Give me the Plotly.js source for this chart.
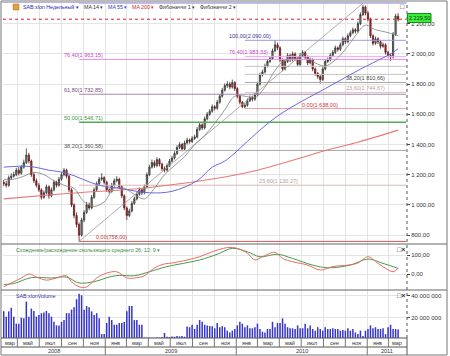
<!DOCTYPE html>
<html><head><meta charset="utf-8">
<script src="https://cdn.plot.ly/plotly-3.0.1.min.js"></script>
<style>html,body{margin:0;padding:0;background:#fff}#chart{width:450px;height:356px}</style>
</head><body><div id="chart"></div>
<script>
// ---------- DATA ----------
const firstWeek = '2008-03-24';
const openP = [
1150,1140,1130,1180,1190,1200,1230,1210,1250,1280,
1330,1290,1200,1160,1130,1100,1050,1080,1120,1060,
1100,1150,1130,1170,1200,1230,1190,1100,1000,930,
870,800,900,950,1000,980,1050,1100,1140,1170,
1180,1150,1100,1090,1130,1160,1170,1120,1060,980,
930,960,1010,1040,1070,1100,1080,1120,1200,1250,
1280,1260,1300,1270,1240,1230,1260,1290,1310,1340,
1380,1400,1370,1410,1430,1420,1440,1450,1500,1530,
1510,1570,1600,1620,1650,1640,1680,1720,1760,1790,
1800,1780,1810,1770,1720,1680,1650,1660,1690,1710,
1700,1730,1800,1860,1880,1920,1950,1970,2020,2060,
2040,1960,1900,1950,1990,1960,2000,1970,1930,1990,
2010,1980,1940,1960,1900,1870,1850,1830,1900,1950,
1960,1990,2010,2040,2030,2060,2100,2080,2120,2140,
2160,2150,2200,2260,2310,2270,2230,2120,2070,2100,
2080,2050,2060,2010,1990,1980,2130,2250];
const highP = [
1165,1160,1195,1210,1220,1245,1250,1265,1300,1374,
1345,1300,1215,1175,1145,1110,1095,1135,1130,1115,
1165,1160,1185,1215,1245,1240,1200,1110,1010,950,
885,915,965,1020,1015,1065,1115,1155,1185,1210,
1190,1160,1110,1145,1175,1190,1180,1130,1070,990,
975,1025,1055,1085,1115,1110,1135,1215,1265,1300,
1295,1315,1310,1280,1255,1275,1305,1325,1355,1395,
1415,1410,1425,1445,1440,1455,1465,1515,1545,1540,
1585,1615,1635,1665,1660,1695,1735,1775,1805,1820,
1815,1830,1820,1780,1730,1690,1675,1705,1725,1720,
1745,1815,1875,1895,1935,1965,1985,2035,2090,2075,
2050,1970,1965,2005,2000,2015,2010,1980,2005,2025,
2020,1990,1975,1970,1910,1880,1860,1915,1965,1975,
2005,2025,2055,2050,2075,2115,2110,2135,2155,2175,
2170,2215,2275,2325,2320,2285,2240,2130,2115,2110,
2090,2075,2070,2020,2000,2145,2265,2270];
const lowP = [
1125,1115,1120,1165,1180,1190,1195,1200,1240,1270,
1275,1185,1145,1115,1085,1035,1040,1070,1040,1050,
1090,1115,1120,1160,1190,1175,1085,985,910,850,
758,790,885,940,965,970,1040,1090,1130,1160,
1135,1085,1075,1080,1120,1150,1105,1045,965,900,
920,950,1000,1030,1060,1065,1070,1110,1190,1240,
1245,1250,1255,1225,1215,1220,1250,1280,1300,1330,
1370,1355,1360,1400,1405,1410,1430,1440,1490,1495,
1500,1560,1590,1610,1625,1630,1670,1710,1750,1775,
1765,1770,1755,1705,1665,1640,1638,1650,1680,1685,
1690,1720,1790,1850,1870,1910,1940,1960,2010,2025,
1945,1885,1890,1940,1945,1950,1955,1915,1920,1980,
1965,1925,1930,1885,1855,1835,1803,1820,1890,1940,
1950,1980,2000,2015,2020,2050,2065,2070,2110,2130,
2135,2140,2190,2250,2255,2215,2105,2055,2060,2065,
2035,2040,1995,1975,1954,1970,2120,2215];
const closeP = [
1140,1130,1180,1190,1200,1230,1210,1250,1280,1330,
1290,1200,1160,1130,1100,1050,1080,1120,1060,1100,
1150,1130,1170,1200,1230,1190,1100,1000,930,870,
800,900,950,1000,980,1050,1100,1140,1170,1180,
1150,1100,1090,1130,1160,1170,1120,1060,980,930,
960,1010,1040,1070,1100,1080,1120,1200,1250,1280,
1260,1300,1270,1240,1230,1260,1290,1310,1340,1380,
1400,1370,1410,1430,1420,1440,1450,1500,1530,1510,
1570,1600,1620,1650,1640,1680,1720,1760,1790,1800,
1780,1810,1770,1720,1680,1650,1660,1690,1710,1700,
1730,1800,1860,1880,1920,1950,1970,2020,2060,2040,
1960,1900,1950,1990,1960,2000,1970,1930,1990,2010,
1980,1940,1960,1900,1870,1850,1830,1900,1950,1960,
1990,2010,2040,2030,2060,2100,2080,2120,2140,2160,
2150,2200,2260,2310,2270,2230,2120,2070,2100,2080,
2050,2060,2010,1990,1980,2130,2250,2229.5];
const volumeM = [
25.7,20.8,25.7,29,20.8,14.3,14.3,19.8,19.2,34.8,
20.8,28.3,26,20.8,22.4,24,24.7,26,24,20.8,
16,12.7,12.7,16,17.6,24,24,27.3,29.5,37,
42,40.6,27.3,30.6,29.5,25.7,22.4,24,19.2,4.6,
4.6,15,20.8,17.6,13.3,13.3,15,15,16,25.7,
30.6,30.6,17.6,17.6,13.3,13.3,1.3,1.3,1.4,1.3,
1.2,1.5,1.4,2.0,5.7,2.2,1.8,2.5,2.2,2.9,
2.5,2.9,2.2,11.7,11,13.3,9.4,13.3,17.6,16,
13.3,12.7,12,12,10,15,11,12,11,7.8,
6.2,7.8,9.4,12.7,16,14.3,11,12.7,10,10,
11,14.3,9.4,6.8,6.2,9.4,9.4,16,11,15,
15,19.2,14.3,11,10,10,9.4,12.7,10,10,
14.3,10,12.7,9.4,7.8,11,9.4,7.8,11,9.4,
9.4,10,9.4,9.4,7.8,8.5,7.8,10,7.8,9.4,
6.2,4.6,7.8,2.9,7.8,9.4,12.7,10,11,9.4,
9.4,10,4.6,11,13.3,9.4,9.4,8.8];

const ma14Week = [0,4,8,12,16,20,24,28,32,36,40,44,48,52,56,60,64,68,72,76,80,84,88,92,96,100,104,108,112,116,120,124,128,132,136,140,144,148,152,157];
const ma14Val  = [1170,1170,1190,1215,1200,1160,1130,1110,1020,990,1020,1110,1110,1070,1040,1110,1200,1260,1320,1400,1460,1540,1630,1720,1720,1710,1780,1890,1960,1970,1980,1940,1920,1960,2030,2120,2190,2160,2145,2120];
const ma55Week = [0,10,18,25,38,46,58,67,77,83,88,97,103,110,118,128,141,155,157];
const ma55Val  = [1250,1255,1230,1210,1130,1110,1080,1090,1160,1250,1290,1420,1510,1600,1680,1770,1890,2010,2035];
const ma200Week = [0,25,58,88,101,115,128,141,157];
const ma200Val  = [1040,1075,1115,1185,1230,1295,1360,1415,1495];

const macdWeek = [0,3,7,10,13,17,21,25,27,30,33,37,41,45,49,52,56,60,64,67,73,78,83,89,93,97,100,103,108,111,115,121,126,131,137,141,145,149,151,155,157];
const macdVal  = [-67,-47,-21,0,-16,-32,-21,-9,-40,-67,-68,-21,5,12,-20,-21,-9,32,53,58,74,91,117,139,135,109,74,91,114,82,65,47,21,39,47,58,91,56,39,12,30];
const signalWeek = [0,4,11,19,25,30,36,42,46,52,58,65,78,85,91,97,102,109,115,123,129,138,145,151,157];
const signalVal  = [-55,-50,-19,-21,-16,-47,-40,-16,-7,-9,12,39,74,104,135,117,91,104,82,47,33,47,79,56,30];

const fib1Pct = [0, 23.6, 38.2, 50, 61.8, 76.4, 100];
const fib1Val = [758, 1130.27, 1360.58, 1546.71, 1732.85, 1963.15, 2335.42];
const fib1FromWeek = 30, fib1ToWeek = 143;
const fib2Pct = [0, 23.6, 38.2, 50, 61.8, 76.4, 100];
const fib2Val = [1638, 1744.67, 1810.66, 1864, 1917.34, 1983.33, 2090];
const fib2FromWeek = 96;
const lastPrice = 2229.5;

const priceTicks = [800, 1000, 1200, 1400, 1600, 1800, 2000, 2200];
const macdTicks = [0, 100];
const volTicks = [20, 40];
const volTickText = ['20 000 000', '40 000 000'];
const monthBounds = ['2008-03-01','2008-05-01','2008-07-01','2008-09-01','2008-11-01','2009-01-01','2009-03-01','2009-05-01','2009-07-01','2009-09-01','2009-11-01','2010-01-01','2010-03-01','2010-05-01','2010-07-01','2010-09-01','2010-11-01','2011-01-01','2011-03-01','2011-05-01'];
const monthLabels = ['мар','май','июл','сен','ноя','янв','мар','май','июл','сен','ноя','янв','мар','май','июл','сен','ноя','янв','мар'];
const yearBounds = ['2008-01-01','2009-01-01','2010-01-01','2011-01-01','2012-01-01'];
const yearLabels = ['2008','2009','2010','2011'];

// ---------- HELPERS ----------
const X0 = '2008-03-22', X1 = '2011-04-19';
const W = 450, H = 356, ML = 3, MR = 44, MT = 3, MB = 18;
const PW = W - ML - MR, PH = H - MT - MB;
const xp = px => (px - ML) / PW;
const yp = py => (H - MB - py) / PH;
const t0 = Date.parse(X0), t1 = Date.parse(X1);
const dfrac = d => (Date.parse(d) - t0) / (t1 - t0);
const weekDate = i => new Date(Date.parse(firstWeek) + i * 7 * 86400000).toISOString().slice(0, 10);
const fmtNum = (v, dec) => {
  const s = v.toFixed(dec).split('.');
  const ip = s[0].replace(/\B(?=(\d{3})+(?!\d))/g, ' ');
  return dec ? ip + ',' + s[1] : ip;
};
const FONT = 'Arial, "Liberation Sans", sans-serif';

const dates = closeP.map((_, i) => weekDate(i));
const traces = [];

// fib lines
const fib1Colors = ['#e05858', '#d8b8b8', '#a8a8a8', '#55aa55', '#a888a8', '#f08cf0', '#a8a8e0'];
const fib2Colors = ['#eea0a0', '#dcc4c4', '#a8a8a8', '#c4c4c4', '#c4c4c4', '#f4a8f4', '#9a9ae0'];
fib1Val.forEach((v, k) => traces.push({type: 'scatter', mode: 'lines', x: [weekDate(fib1FromWeek), X1], y: [v, v],
  line: {color: fib1Colors[k], width: k === 3 ? 1.5 : 1}, xaxis: 'x', yaxis: 'y'}));
fib2Val.forEach((v, k) => traces.push({type: 'scatter', mode: 'lines', x: [weekDate(fib2FromWeek), X1], y: [v, v],
  line: {color: fib2Colors[k], width: 1}, xaxis: 'x', yaxis: 'y'}));
traces.push({type: 'scatter', mode: 'lines', x: [weekDate(fib1FromWeek), weekDate(fib1ToWeek)], y: [fib1Val[0], fib1Val[6]],
  line: {color: '#9a9a9a', width: 0.8}});

// moving averages
traces.push({type: 'scatter', mode: 'lines', x: ma200Week.map(weekDate), y: ma200Val, line: {color: '#e87878', width: 1.1, shape: 'spline'}});
traces.push({type: 'scatter', mode: 'lines', x: ma55Week.map(weekDate), y: ma55Val, line: {color: '#6a6ae0', width: 1, shape: 'spline'}});
traces.push({type: 'scatter', mode: 'lines', x: ma14Week.map(weekDate), y: ma14Val, line: {color: '#808080', width: 0.8, shape: 'spline'}});

// candles
traces.push({type: 'candlestick', x: dates, open: openP, high: highP, low: lowP, close: closeP,
  increasing: {line: {color: '#303030', width: 0.8}, fillcolor: '#7f9c7f'},
  decreasing: {line: {color: '#5a1818', width: 0.8}, fillcolor: '#c83030'},
  whiskerwidth: 0, xaxis: 'x', yaxis: 'y'});

// MACD
traces.push({type: 'scatter', mode: 'lines', x: signalWeek.map(weekDate), y: signalVal, line: {color: '#4a9a4a', width: 1, shape: 'spline'}, xaxis: 'x', yaxis: 'y2'});
traces.push({type: 'scatter', mode: 'lines', x: macdWeek.map(weekDate), y: macdVal, line: {color: '#e86a6a', width: 1, shape: 'spline'}, xaxis: 'x', yaxis: 'y2'});

// volume
traces.push({type: 'bar', x: dates, y: volumeM, width: 4.2 * 86400000, marker: {color: '#3636c8', line: {width: 0}}, xaxis: 'x', yaxis: 'y3'});

traces.forEach(t => { t.showlegend = false; t.hoverinfo = 'skip'; });

// ---------- SHAPES ----------
const shapes = [];
const ln = (x0, y0, x1, y1, color, width, dash) => ({type: 'line', xref: 'paper', yref: 'paper', x0, y0, x1, y1,
  line: {color, width: width || 1, dash: dash || 'solid'}, layer: 'above'});
shapes.push({type: 'line', xref: 'paper', yref: 'y', x0: 0, x1: 1, y0: lastPrice, y1: lastPrice, line: {color: '#e02020', width: 1, dash: 'dot'}});
shapes.push(ln(xp(407), 0, xp(407), 1, '#555', 1, 'dot'));
shapes.push(ln(xp(1), yp(244), xp(447), yp(244), '#666', 1));
shapes.push(ln(xp(1), yp(290), xp(447), yp(290), '#666', 1));
shapes.push({type: 'rect', xref: 'paper', yref: 'paper', x0: xp(1), x1: xp(447), y0: yp(1), y1: yp(355), line: {color: '#777', width: 1}, layer: 'above'});
shapes.push(ln(xp(1), yp(2.5), xp(407), yp(2.5), '#b8b8e0', 1));
shapes.push(ln(xp(1), yp(338), xp(407), yp(338), '#555', 1));
shapes.push(ln(xp(1), yp(347), xp(407), yp(347), '#555', 1));
shapes.push(ln(xp(407), yp(338), xp(407), yp(355), '#555', 1));
monthBounds.forEach(d => { const f = dfrac(d); if (f > 0 && f < 1) shapes.push(ln(f, yp(338), f, yp(347), '#777', 1)); });
yearBounds.forEach(d => { const f = dfrac(d); if (f > 0 && f < 1) shapes.push(ln(f, yp(347), f, yp(355), '#777', 1)); });
shapes.push({type: 'rect', xref: 'paper', yref: 'paper', x0: xp(407.5), x1: xp(431), y0: yp(22.5), y1: yp(13.5), fillcolor: '#39f039', line: {color: '#1d8a1d', width: 1}, layer: 'above'});
shapes.push({type: 'rect', xref: 'paper', yref: 'paper', x0: xp(13), x1: xp(19), y0: yp(10), y1: yp(4), fillcolor: '#e0a040', line: {color: '#b07020', width: 0.5}, layer: 'above'});

// ---------- ANNOTATIONS ----------
const ann = [];
const txt = (px, py, text, color, size, anchor) => ann.push({xref: 'paper', yref: 'paper', x: xp(px), y: yp(py), text,
  showarrow: false, xanchor: anchor || 'left', yanchor: 'middle', font: {family: FONT, size: size || 5.3, color: color || '#333'}});
txt(21, 7, 'SAB:xlon Недельный ▾', '#2a2aa8');
txt(82, 7, 'MA 14 ▾', '#333');
txt(106, 7, 'MA 55 ▾', '#3a3ab8');
txt(130, 7, 'MA 200 ▾', '#d02a2a');
txt(157, 7, 'Фибоначчи 1 ▾', '#333');
txt(198, 7, 'Фибоначчи 2 ▾', '#333');
txt(402, 6.5, '□', '#333', 7, 'center');
txt(14, 250, 'Схождение/расхождение скользящего среднего 26; 12; 9 ▾', '#3a8a3a');
txt(401, 249, '□<b>×</b>', '#333', 7, 'center');
txt(14, 296, 'SAB:xlonVolume', '#3333aa');
txt(401, 295, '□<b>×</b>', '#333', 7, 'center');
ann.push({xref: 'paper', yref: 'paper', x: xp(419.3), y: yp(18), text: fmtNum(lastPrice, 2), showarrow: false,
  xanchor: 'center', yanchor: 'middle', bgcolor: 'rgba(0,0,0,0)', font: {family: FONT, size: 5.5, color: '#113311'}});

const fibLabel = (pct, val, pxX, color) => ann.push({xref: 'paper', yref: 'y', x: xp(pxX), y: val,
  text: fmtNum(pct, 2) + '(' + fmtNum(val, 2) + ')', showarrow: false, xanchor: 'left', yanchor: 'bottom', yshift: -1,
  font: {family: FONT, size: 5.5, color}});
fibLabel(fib1Pct[5], fib1Val[5], 62, '#cc44cc');
fibLabel(fib1Pct[4], fib1Val[4], 62, '#7a4a7a');
fibLabel(fib1Pct[3], fib1Val[3], 62, '#3a9a3a');
fibLabel(fib1Pct[2], fib1Val[2], 62, '#555555');
fibLabel(fib1Pct[1], fib1Val[1], 257, '#b09a9a');
fibLabel(fib1Pct[0], fib1Val[0], 94, '#cc3333');
fibLabel(fib2Pct[6], fib2Val[6], 227, '#333399');
fibLabel(fib2Pct[5], fib2Val[5], 227, '#cc44cc');
fibLabel(fib2Pct[2], fib2Val[2], 344, '#444444');
fibLabel(fib2Pct[1], fib2Val[1], 344, '#b8a0a0');
fibLabel(fib2Pct[0], fib2Val[0], 300, '#cc3333');

for (let k = 0; k < monthLabels.length; k++) {
  const a = Math.max(0, dfrac(monthBounds[k])), b = Math.min(1, dfrac(monthBounds[k + 1]));
  if (b > a) ann.push({xref: 'paper', yref: 'paper', x: (a + b) / 2, y: yp(342.5), text: monthLabels[k], showarrow: false,
    xanchor: 'center', yanchor: 'middle', font: {family: FONT, size: 5.5, color: '#333'}});
}
for (let k = 0; k < yearLabels.length; k++) {
  const a = Math.max(0, dfrac(yearBounds[k])), b = Math.min(1, dfrac(yearBounds[k + 1]));
  if (b > a) ann.push({xref: 'paper', yref: 'paper', x: (a + b) / 2, y: yp(351), text: yearLabels[k], showarrow: false,
    xanchor: 'center', yanchor: 'middle', font: {family: FONT, size: 5.5, color: '#333'}});
}

const yax = (domain, range, tickvals, ticktext) => ({domain, range, tickvals, ticktext, side: 'right', anchor: 'x',
  showgrid: true, gridcolor: '#e4e4e4', gridwidth: 1, zeroline: false, showline: false, ticks: 'outside', ticklen: 3,
  tickcolor: '#444', tickfont: {family: FONT, size: 6, color: '#333'}, fixedrange: true});

const layout = {
  width: W, height: H, margin: {l: ML, r: MR, t: MT, b: MB}, paper_bgcolor: '#fff', plot_bgcolor: '#fff',
  showlegend: false, dragmode: false,
  xaxis: {type: 'date', range: [X0, X1], anchor: 'y3', tickvals: monthBounds, showticklabels: false, ticks: '',
    showgrid: true, gridcolor: '#e4e4e4', zeroline: false, showline: false, rangeslider: {visible: false}, fixedrange: true},
  yaxis: yax([yp(244), 1], [741, 2337], priceTicks, priceTicks.map(v => fmtNum(v, 2))),
  yaxis2: yax([yp(290), yp(244)], [-84, 158], macdTicks, macdTicks.map(v => fmtNum(v, 2))),
  yaxis3: yax([0, yp(290)], [1, 45.5], volTicks, volTickText),
  shapes, annotations: ann
};

Plotly.newPlot('chart', traces, layout, {staticPlot: true, displayModeBar: false});
</script></body></html>
